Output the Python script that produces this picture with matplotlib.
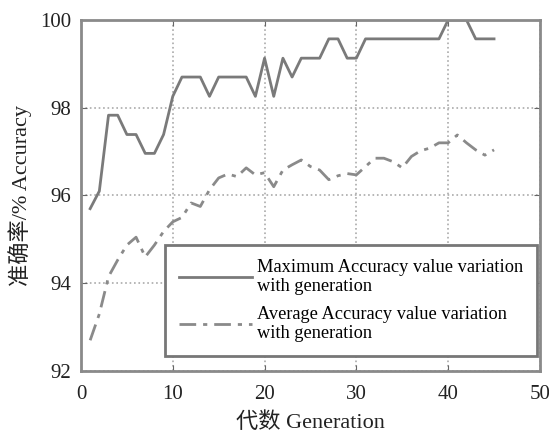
import numpy as np
import matplotlib.pyplot as plt

# generations and accuracy values
generation = list(range(1, 46))
max_acc = [95.70, 96.10, 97.83, 97.83, 97.39, 97.39, 96.96, 96.96, 97.39, 98.26,
           98.70, 98.70, 98.70, 98.26, 98.70, 98.70, 98.70, 98.70, 98.26, 99.13,
           98.26, 99.13, 98.70, 99.13, 99.13, 99.13, 99.57, 99.57, 99.13, 99.13,
           99.57, 99.57, 99.57, 99.57, 99.57, 99.57, 99.57, 99.57, 99.57, 100.0,
           100.0, 100.0, 99.57, 99.57, 99.57]
avg_acc = [92.70, 93.30, 94.15, 94.53, 94.87, 95.05, 94.60, 94.87, 95.18, 95.40,
           95.50, 95.83, 95.75, 96.13, 96.40, 96.49, 96.43, 96.63, 96.47, 96.52,
           96.20, 96.58, 96.70, 96.81, 96.66, 96.58, 96.36, 96.45, 96.50, 96.47,
           96.66, 96.85, 96.85, 96.77, 96.63, 96.89, 97.02, 97.08, 97.20, 97.20,
           97.38, 97.20, 97.04, 96.92, 97.04]

x_ticks = [0, 10, 20, 30, 40, 50]
y_ticks = [92, 94, 96, 98, 100]

serif = ['Liberation Serif', 'Noto Sans CJK SC']
plt.rcParams['font.family'] = serif

fig = plt.figure(figsize=(5.49, 4.33), dpi=100)
ax = fig.add_axes([0.1475, 0.1432, 0.836, 0.8106])

ax.plot(generation, max_acc, color='#7a7a7a', lw=2,
        label='Maximum Accuracy value variation\nwith generation')
ax.plot(generation, avg_acc, color='#8a8a8a', lw=2, linestyle=(0, (6, 2.5, 1.5, 2.5)),
        label='Average Accuracy value variation\nwith generation')

ax.set_xlim(0, 50)
ax.set_ylim(92, 100)
ax.set_xticks(x_ticks)
ax.set_yticks(y_ticks)
ax.grid(True, linestyle=':', color='#aaaaaa', lw=1.2)
ax.tick_params(direction='in', top=True, right=True, length=4, color='#666666',
               labelsize=15, labelcolor='#222222')
ax.tick_params(axis='x', pad=10)
ax.tick_params(axis='y', pad=7)
for s in ax.spines.values():
    s.set_color('#8a8a8a')
    s.set_linewidth(2)

ax.set_xlabel('代数 Generation', fontsize=16, family=serif, labelpad=6, color='#222222')
ax.set_ylabel('准确率/% Accuracy', fontsize=16, family=serif, labelpad=6, color='#222222')

leg = ax.legend(loc='lower right', fontsize=13.2, frameon=True, fancybox=False,
                handlelength=4.0, borderpad=0.75, labelspacing=0.55,
                bbox_to_anchor=(0.9935, 0.043), borderaxespad=0, handletextpad=0.25)
leg.get_frame().set_edgecolor('#777777')
leg.get_frame().set_linewidth(2)
leg.get_frame().set_alpha(1)

fig.savefig('out.png', dpi=100)
